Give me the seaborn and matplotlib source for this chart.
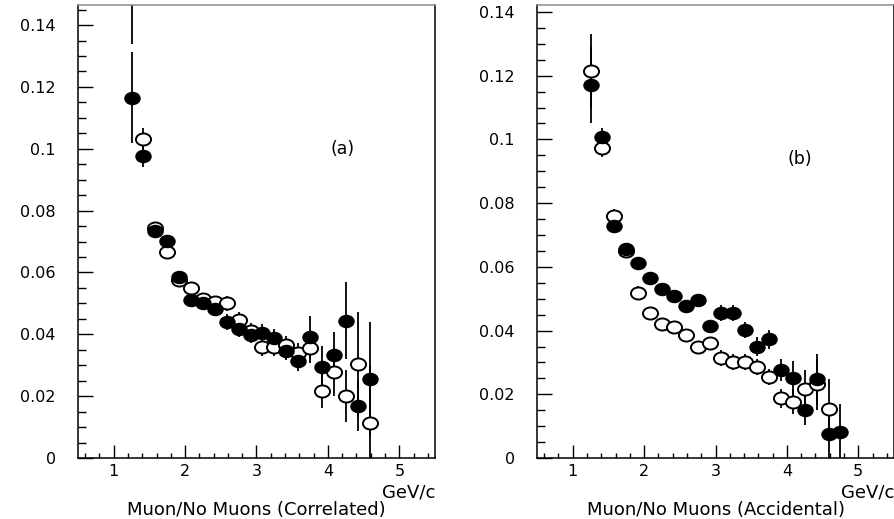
import numpy as np
import pandas as pd
import matplotlib
matplotlib.use("Agg")
import matplotlib.pyplot as plt
import seaborn as sns
from matplotlib.path import Path
from matplotlib.ticker import MultipleLocator, FuncFormatter

# Momentum bin centres (GeV/c)
p_corr = [1.25, 1.417, 1.583, 1.75, 1.917, 2.083, 2.25, 2.417, 2.583, 2.75,
          2.917, 3.083, 3.25, 3.417, 3.583, 3.75, 3.917, 4.083, 4.25, 4.417, 4.583]
p_acc = [1.25, 1.417, 1.583, 1.75, 1.917, 2.083, 2.25, 2.417, 2.583, 2.75,
         2.917, 3.083, 3.25, 3.417, 3.583, 3.75, 3.917, 4.083, 4.25, 4.417, 4.583, 4.75]

# (a) correlated: muon-tagged (filled) and no-muon (open) samples
muon_corr = [0.1165, 0.0977, 0.0733, 0.0702, 0.0586, 0.0510, 0.0500, 0.0481, 0.0440, 0.0416,
             0.0397, 0.0403, 0.0387, 0.0347, 0.0315, 0.0390, 0.0295, 0.0333, 0.0444, 0.0168, 0.0255]
muon_corr_err = [0.0147, 0.0036, 0.0020, 0.0020, 0.0020, 0.0020, 0.0020, 0.0020, 0.0025, 0.0025,
                 0.0025, 0.0030, 0.0030, 0.0030, 0.0035, 0.0070, 0.0066, 0.0075, 0.0125, 0.0080, 0.0185]
nomu_corr = [0.1600, 0.1033, 0.0744, 0.0667, 0.0577, 0.0550, 0.0513, 0.0505, 0.0500, 0.0446,
             0.0410, 0.0360, 0.0360, 0.0365, 0.0338, 0.0356, 0.0216, 0.0277, 0.0200, 0.0303, 0.0112]
nomu_corr_err = [0.0260, 0.0035, 0.0020, 0.0020, 0.0020, 0.0020, 0.0020, 0.0020, 0.0025, 0.0025,
                 0.0025, 0.0030, 0.0030, 0.0030, 0.0035, 0.0050, 0.0055, 0.0075, 0.0085, 0.0170, 0.0185]

# (b) accidental
muon_acc = [0.1170, 0.1009, 0.0728, 0.0655, 0.0611, 0.0564, 0.0530, 0.0507, 0.0477, 0.0496,
            0.0414, 0.0456, 0.0454, 0.0403, 0.0350, 0.0373, 0.0276, 0.0250, 0.0150, 0.0247, 0.0074, 0.0083]
muon_acc_err = [0.0120, 0.0027, 0.0020, 0.0020, 0.0020, 0.0020, 0.0020, 0.0020, 0.0020, 0.0020,
                0.0020, 0.0025, 0.0025, 0.0025, 0.0030, 0.0030, 0.0035, 0.0055, 0.0045, 0.0080, 0.0075, 0.0085]
nomu_acc = [0.1215, 0.0972, 0.0761, 0.0651, 0.0519, 0.0454, 0.0420, 0.0410, 0.0386, 0.0348,
            0.0360, 0.0313, 0.0300, 0.0300, 0.0287, 0.0255, 0.0187, 0.0177, 0.0216, 0.0232, 0.0153]
nomu_acc_err = [0.0115, 0.0026, 0.0020, 0.0020, 0.0020, 0.0020, 0.0020, 0.0020, 0.0020, 0.0020,
                0.0020, 0.0025, 0.0025, 0.0025, 0.0025, 0.0025, 0.0030, 0.0040, 0.0060, 0.0080, 0.0095]

sns.set_style("white")
plt.rcParams["font.family"] = ["DejaVu Sans"]
plt.rcParams["text.color"] = "black"
plt.rcParams["axes.labelcolor"] = "black"
plt.rcParams["xtick.color"] = "black"
plt.rcParams["ytick.color"] = "black"

# slightly wide elliptical marker
_circ = Path.unit_circle()
ellipse = Path(_circ.vertices * np.array([1.25, 1.0]), _circ.codes)

fig = plt.figure(figsize=(8.94, 5.19), dpi=100)
ax_a = fig.add_axes([0.0872, 0.1175, 0.3994, 0.8729])
ax_b = fig.add_axes([0.6007, 0.1175, 0.3993, 0.8729])


def draw_panel(ax, p_mu, mu, mu_err, p_no, no, no_err, ytop, tag, tagxy, title):
    df_mu = pd.DataFrame({"p": p_mu, "frac": mu, "err": mu_err})
    df_no = pd.DataFrame({"p": p_no, "frac": no, "err": no_err})
    for df in (df_no, df_mu):
        ax.errorbar(df["p"], df["frac"], yerr=df["err"], fmt="none",
                    ecolor="black", elinewidth=1.3, capsize=0, zorder=2)
    sns.scatterplot(data=df_no, x="p", y="frac", ax=ax, marker=ellipse, s=118,
                    facecolor="white", edgecolor="black", linewidth=1.4, zorder=3)
    sns.scatterplot(data=df_mu, x="p", y="frac", ax=ax, marker=ellipse, s=118,
                    color="black", edgecolor="black", linewidth=1.0, zorder=4)

    ax.set_xlim(0.5, 5.5)
    ax.set_ylim(0, ytop)
    ax.xaxis.set_major_locator(MultipleLocator(1))
    ax.xaxis.set_minor_locator(MultipleLocator(0.2))
    ax.yaxis.set_major_locator(MultipleLocator(0.02))
    ax.yaxis.set_minor_locator(MultipleLocator(0.005))
    ax.yaxis.set_major_formatter(FuncFormatter(lambda v, _: "%g" % round(v, 3)))
    ax.tick_params(axis="x", which="major", direction="in", length=9.5, width=1.0,
                   pad=4, labelsize=11.5, bottom=True, top=False, colors="black")
    ax.tick_params(axis="x", which="minor", direction="in", length=3.5, width=1.0,
                   bottom=True, top=False, colors="black")
    ax.tick_params(axis="y", which="major", direction="in", length=10.5, width=1.0,
                   pad=16, labelsize=11.5, left=True, right=False, colors="black")
    ax.tick_params(axis="y", which="minor", direction="in", length=5.5, width=1.0,
                   left=True, right=False, colors="black")
    for side in ("left", "bottom", "right"):
        ax.spines[side].set_color("black")
        ax.spines[side].set_linewidth(1.1)
    ax.spines["top"].set_color("#8c8c8c")
    ax.spines["top"].set_linewidth(1.1)

    ax.set_xlabel(title, fontsize=13, va="center", color="black")
    ax.xaxis.set_label_coords(0.5, -0.115)
    ax.set_ylabel("")
    ax.text(1.0, -0.077, "GeV/c", transform=ax.transAxes, ha="right", va="center",
            fontsize=13, color="black")
    ax.text(tagxy[0], tagxy[1], tag, ha="center", va="center", fontsize=12.5,
            color="black")


draw_panel(ax_a, p_corr, muon_corr, muon_corr_err, p_corr, nomu_corr, nomu_corr_err,
           0.1465, "(a)", (4.2, 0.100), "Muon/No Muons (Correlated)")
draw_panel(ax_b, p_acc, muon_acc, muon_acc_err, p_corr, nomu_acc, nomu_acc_err,
           0.1422, "(b)", (4.18, 0.094), "Muon/No Muons (Accidental)")

fig.savefig("out.png", dpi=100)
